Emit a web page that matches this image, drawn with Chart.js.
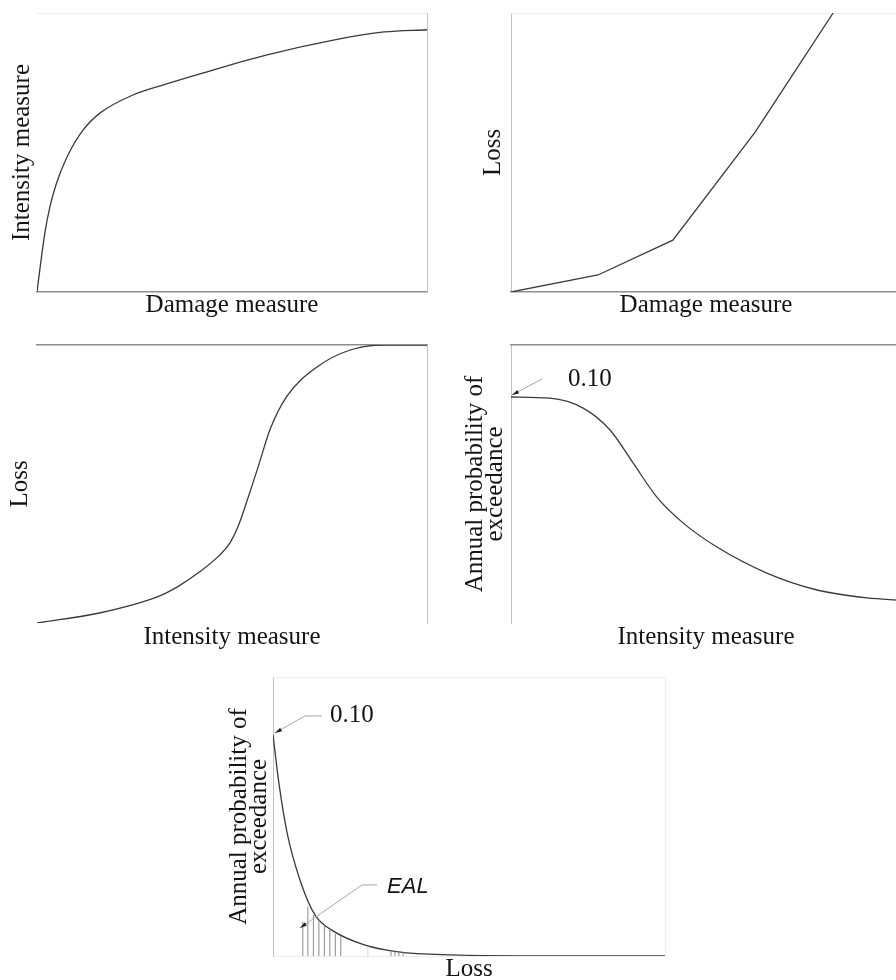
<!DOCTYPE html>
<html>
<head>
<meta charset="utf-8">
<script src="https://cdn.jsdelivr.net/npm/chart.js@4.4.1/dist/chart.umd.min.js"></script>
<style>
  html, body { margin: 0; padding: 0; background: #fff; width: 896px; height: 980px; overflow: hidden; }
  canvas { position: absolute; left: 0; top: 0; }
</style>
</head>
<body>
<canvas id="imDamage" width="910" height="1000"></canvas>
<canvas id="lossDamage" width="910" height="1000"></canvas>
<canvas id="lossIntensity" width="910" height="1000"></canvas>
<canvas id="hazard" width="910" height="1000"></canvas>
<canvas id="lossCurve" width="910" height="1000"></canvas>
<script>
// ---- Data ---------------------------------------------------------------

// Intensity measure vs damage measure
const dmAxis1 = [0, 1, 2, 3.3, 5, 7.7, 11.8, 16.2, 24.6, 33, 41.8, 59, 76, 89, 100];
const imValues1 = [0, 11, 21, 30.5, 39, 48.4, 58, 64.2, 70.6, 74.5, 78.2, 85, 90.3, 93.2, 94];

// Loss vs damage measure (piecewise)
const dmAxis2 = [0, 22.3, 41.5, 62.6, 82.6];
const lossValues2 = [0, 6.1, 18.6, 57.3, 100];

// Loss vs intensity measure (vulnerability)
const imAxis3 = [0, 16, 31, 36, 41.8, 46.9, 49.5, 51.5, 54.2, 57, 59.7, 64, 71.8, 80.3, 88.7, 100];
const lossValues3 = [0, 3.6, 9.5, 13, 18.5, 24.5, 28.8, 34.5, 45.4, 57.5, 69.4, 81.4, 92.1, 98.2, 100, 100];

// Hazard curve: annual probability of exceedance vs intensity measure
const imAxis4 = [0, 10, 18.5, 25.4, 31.3, 37.4, 44.1, 52.8, 65.6, 78.5, 91.3, 100];
const apeValues4 = [0.100, 0.0995, 0.0951, 0.0854, 0.0708, 0.0557, 0.0443, 0.0336, 0.0221, 0.0146, 0.0111, 0.0101];

// Loss curve: annual probability of exceedance vs loss
const lossAxis5 = [0, 1.5, 3.6, 6.9, 10.7, 15, 23.5, 32, 45.9, 63, 100];
const apeValues5 = [0.100, 0.0783, 0.0557, 0.0343, 0.0186, 0.0117, 0.0049, 0.0019, 0.0005, 0.0001, 0.0001];

// Hatching under the loss curve (area = EAL)
const hatchLoss = [7.6, 8.9, 10.3, 11.7, 13.1, 14.5, 15.9, 17.3, 24.2, 30.1, 31.1, 32.1, 33.2];
const hatchApe = [0.0155, 0.0223, 0.0186, 0.0163, 0.0140, 0.0120, 0.0102, 0.0091, 0.0044, 0.0024, 0.0021, 0.0020, 0.0018];

// ---- Styling --------------------------------------------------------------
const W = 910, H = 1000;
const SERIF = "'Liberation Serif', 'Times New Roman', Times, serif";
const SANS = "'Liberation Sans', Arial, Helvetica, sans-serif";
const INK = '#141414';
const CURVE = '#3a3a3a';
const AXIS_DARK = { color: '#8e8e8e', width: 1.6 };
const AXIS_LIGHT = { color: '#c2c2c2', width: 1 };
const AXIS_FAINT = { color: '#eeeeee', width: 1 };
const TITLE_SIZE = 25;

const pts = (xs, ys) => xs.map((x, i) => ({ x, y: ys[i] }));

// Leader lines with an arrowhead and a text label, anchored on data values
const leaderPlugin = {
  id: 'leaders',
  afterDatasetsDraw(chart, args, opts) {
    const { ctx } = chart;
    const xs = chart.scales.x, ys = chart.scales.y;
    (opts.items || []).forEach(it => {
      const tx = xs.getPixelForValue(it.at[0]) + it.nudge[0];
      const ty = ys.getPixelForValue(it.at[1]) + it.nudge[1];
      const bx = tx + it.bend[0], by = ty + it.bend[1];
      const ex = bx + it.run;
      ctx.save();
      ctx.strokeStyle = '#a8a8a8';
      ctx.lineWidth = 1;
      ctx.beginPath();
      ctx.moveTo(tx, ty);
      ctx.lineTo(bx, by);
      if (it.run) ctx.lineTo(ex, by);
      ctx.stroke();
      const ang = Math.atan2(ty - by, tx - bx);
      const len = 7, half = 2;
      ctx.fillStyle = '#222';
      ctx.beginPath();
      ctx.moveTo(tx, ty);
      ctx.lineTo(tx - len * Math.cos(ang) + half * Math.sin(ang), ty - len * Math.sin(ang) - half * Math.cos(ang));
      ctx.lineTo(tx - len * Math.cos(ang) - half * Math.sin(ang), ty - len * Math.sin(ang) + half * Math.cos(ang));
      ctx.closePath();
      ctx.fill();
      ctx.fillStyle = INK;
      ctx.font = it.font;
      ctx.textAlign = 'left';
      ctx.textBaseline = 'middle';
      ctx.fillText(it.text, ex + it.gap, by + (it.dy || 0));
      ctx.restore();
    });
  }
};

function border(spec) {
  return spec ? { display: true, color: spec.color, width: spec.width } : { display: false };
}

function makePanel(id, p) {
  const yLH = p.yLineHeight || TITLE_SIZE;
  const nY = Array.isArray(p.yTitle) ? p.yTitle.length : 1;
  const xLH = TITLE_SIZE;
  const padLeft = p.yMid - yLH / 2;
  const yPadBottom = p.box.l - padLeft - nY * yLH;
  const xPadTop = p.xMid - p.box.b - xLH / 2;
  const padBottom = H - (p.box.b + xLH + xPadTop);
  const ticks = { display: false };
  const grid = { display: false, drawTicks: false };
  return new Chart(document.getElementById(id), {
    type: 'line',
    data: { datasets: p.datasets },
    plugins: [leaderPlugin],
    options: {
      responsive: false,
      animation: false,
      events: [],
      layout: { autoPadding: false, padding: { left: padLeft, top: p.box.t, right: W - p.box.r, bottom: padBottom } },
      elements: { point: { radius: 0 } },
      plugins: {
        legend: { display: false },
        tooltip: { enabled: false },
        leaders: { items: p.leaders || [] }
      },
      scales: {
        x: {
          type: 'linear', position: 'bottom', min: 0, max: 100,
          ticks, grid, border: border(p.frame.bottom),
          title: {
            display: true, text: p.xTitle, color: INK,
            font: { family: SERIF, size: TITLE_SIZE, lineHeight: 1 },
            padding: { top: xPadTop, bottom: 0 }
          }
        },
        y: {
          type: 'linear', position: 'left', min: 0, max: p.yMax,
          ticks, grid, border: border(p.frame.left),
          title: {
            display: true, text: p.yTitle, color: INK,
            font: { family: SERIF, size: TITLE_SIZE, lineHeight: yLH / TITLE_SIZE },
            padding: { top: 0, bottom: yPadBottom }
          }
        },
        xTop: {
          type: 'linear', position: 'top', display: true,
          ticks, grid, border: border(p.frame.top)
        },
        yRight: {
          type: 'linear', position: 'right', display: true,
          ticks, grid, border: border(p.frame.right)
        }
      }
    }
  });
}

function curve(data, extra) {
  return Object.assign({
    data, borderColor: CURVE, borderWidth: 1.3, fill: false,
    cubicInterpolationMode: 'monotone', pointRadius: 0
  }, extra || {});
}

// Hatch segments: each one runs from the loss axis up to its height
const hatchData = [];
hatchLoss.forEach((x, i) => { hatchData.push({ x, y: 0 }, { x, y: hatchApe[i] }, { x, y: null }); });

makePanel('imDamage', {
  box: { l: 37, t: 13, r: 427, b: 292 },
  yMid: 22.7, xMid: 305, yMax: 100,
  yTitle: 'Intensity measure', xTitle: 'Damage measure',
  frame: { top: AXIS_FAINT, right: AXIS_LIGHT, bottom: AXIS_DARK },
  datasets: [curve(pts(dmAxis1, imValues1))]
});

makePanel('lossDamage', {
  box: { l: 511, t: 13, r: 901, b: 292 },
  yMid: 493.7, xMid: 305, yMax: 100,
  yTitle: 'Loss', xTitle: 'Damage measure',
  frame: { top: AXIS_FAINT, left: AXIS_LIGHT, bottom: AXIS_DARK },
  datasets: [curve(pts(dmAxis2, lossValues2), { cubicInterpolationMode: 'default', tension: 0 })]
});

makePanel('lossIntensity', {
  box: { l: 37, t: 345, r: 427, b: 623 },
  yMid: 20.3, xMid: 637, yMax: 100,
  yTitle: 'Loss', xTitle: 'Intensity measure',
  frame: { top: AXIS_DARK, right: AXIS_LIGHT },
  datasets: [curve(pts(imAxis3, lossValues3))]
});

makePanel('hazard', {
  box: { l: 511, t: 345, r: 901, b: 623 },
  yMid: 475, yLineHeight: 20, xMid: 637, yMax: 0.123,
  yTitle: ['Annual probability of', 'exceedance'], xTitle: 'Intensity measure',
  frame: { top: AXIS_DARK, left: AXIS_LIGHT },
  datasets: [curve(pts(imAxis4, apeValues4))],
  leaders: [{
    at: [imAxis4[0], apeValues4[0]], nudge: [1, -2], bend: [30, -16], run: 0, gap: 26,
    text: apeValues4[0].toFixed(2), font: `${TITLE_SIZE}px ${SERIF}`
  }]
});

makePanel('lossCurve', {
  box: { l: 273, t: 677, r: 665, b: 956 },
  yMid: 239, yLineHeight: 20, xMid: 969, yMax: 0.1262,
  yTitle: ['Annual probability of', 'exceedance'], xTitle: 'Loss',
  frame: { top: AXIS_FAINT, left: AXIS_LIGHT, right: AXIS_FAINT, bottom: AXIS_FAINT },
  datasets: [
    {
      data: hatchData, borderColor: '#8a8a8a', borderWidth: 1, spanGaps: false, pointRadius: 0,
      segment: { borderColor: c => (Math.floor(c.p0DataIndex / 3) === 8 ? '#d6d6d6' : '#8a8a8a') }
    },
    curve(pts(lossAxis5, apeValues5))
  ],
  leaders: [
    {
      at: [lossAxis5[0], apeValues5[0]], nudge: [2, -2], bend: [30, -17], run: 17, gap: 8,
      text: apeValues5[0].toFixed(2), font: `${TITLE_SIZE}px ${SERIF}`
    },
    {
      at: [lossAxis5[3], 0.0127], nudge: [0, 0], bend: [62, -43], run: 15, gap: 10, dy: 2,
      text: 'EAL', font: `italic 22px ${SANS}`
    }
  ]
});
</script>
</body>
</html>
